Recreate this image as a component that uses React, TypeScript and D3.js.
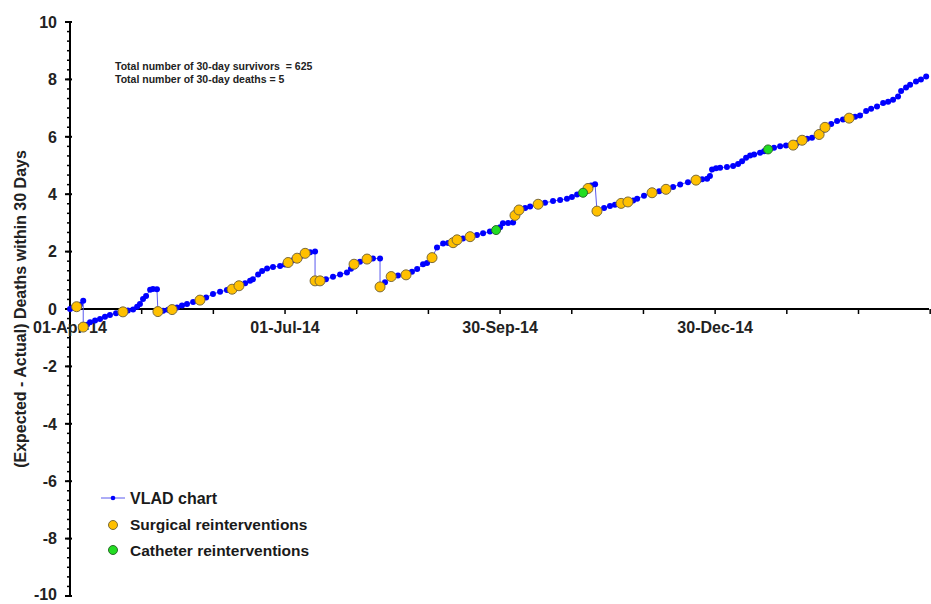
import React from "react";
import * as d3 from "d3";

const vlad: [number, number][] = [
  [0, 0], [1.3, 0.05], [2.8, 0.08], [4.2, 0.15], [5.6, 0.29], [5.6, -0.63], [7.2, -0.55], [8.5, -0.46],
  [10.6, -0.4], [12.7, -0.35], [14.8, -0.27], [16.9, -0.21], [19.5, -0.15], [22.4, -0.1], [24.5, -0.05],
  [26.7, -0.02], [28.4, 0.08], [29.6, 0.17], [30.9, 0.35], [32.2, 0.45], [33.9, 0.67], [35.1, 0.7],
  [36.8, 0.69], [37.2, -0.09], [39.4, -0.06], [41.5, -0.03], [43.2, -0.02], [45.3, 0.05], [47.4, 0.12],
  [49.5, 0.17], [52.1, 0.24], [55.0, 0.31], [57.6, 0.4], [60.5, 0.52], [63.5, 0.6], [66.4, 0.66],
  [68.6, 0.69], [71.5, 0.81], [74.1, 0.9], [76.2, 0.98], [77.4, 1.04], [79.6, 1.2], [81.3, 1.32],
  [83.4, 1.41], [85.9, 1.46], [88.9, 1.5], [91.0, 1.55], [92.3, 1.62], [94.4, 1.7], [96.1, 1.77],
  [97.8, 1.85], [99.5, 1.94], [101.6, 1.98], [103.7, 2.0], [103.7, 0.98], [105.8, 0.98], [108.3, 1.04],
  [111.3, 1.12], [114.3, 1.2], [117.2, 1.27], [118.9, 1.4], [120.2, 1.56], [122.7, 1.65], [125.7, 1.74],
  [128.2, 1.76], [131.2, 1.76], [131.2, 0.77], [133.3, 0.93], [135.9, 1.13], [138.8, 1.17], [142.2, 1.19],
  [144.7, 1.3], [146.9, 1.39], [149.4, 1.56], [151.1, 1.6], [153.2, 1.79], [155.3, 2.14], [157.9, 2.28],
  [160.0, 2.3], [162.1, 2.31], [163.8, 2.41], [166.3, 2.46], [169.3, 2.52], [172.2, 2.58], [174.8, 2.64],
  [177.7, 2.7], [180.3, 2.75], [182.0, 2.85], [183.2, 2.99], [185.4, 3.0], [187.5, 3.01], [188.3, 3.26],
  [190.0, 3.45], [192.6, 3.52], [194.7, 3.57], [198.1, 3.65], [201.0, 3.7], [204.4, 3.76], [207.4, 3.8],
  [210.3, 3.84], [212.4, 3.9], [214.6, 3.99], [217.1, 4.05], [219.2, 4.2], [220.5, 4.3], [222.2, 4.35],
  [223.0, 3.41], [226.0, 3.52], [228.5, 3.59], [230.6, 3.63], [233.2, 3.68], [236.1, 3.73], [238.3, 3.78],
  [240.0, 3.84], [242.9, 3.95], [246.3, 4.05], [249.3, 4.1], [252.2, 4.17], [255.2, 4.25], [258.2, 4.34],
  [261.5, 4.42], [264.9, 4.49], [267.5, 4.52], [269.6, 4.54], [270.8, 4.63], [271.7, 4.86], [273.4, 4.9],
  [275.1, 4.92], [278.0, 4.95], [280.6, 4.98], [282.7, 5.05], [284.4, 5.15], [286.1, 5.27], [287.8, 5.35],
  [289.5, 5.38], [292.0, 5.44], [293.7, 5.5], [295.4, 5.56], [297.9, 5.62], [300.5, 5.67], [303.0, 5.7],
  [306.0, 5.71], [307.7, 5.78], [309.8, 5.88], [311.9, 5.93], [314.0, 5.97], [317.0, 6.08], [318.2, 6.2],
  [319.5, 6.33], [322.1, 6.45], [324.6, 6.55], [327.1, 6.6], [329.7, 6.65], [332.2, 6.7], [334.3, 6.74],
  [336.9, 6.9], [339.0, 6.98], [341.5, 7.06], [344.1, 7.18], [346.2, 7.22], [348.3, 7.29], [350.4, 7.4],
  [351.7, 7.6], [353.8, 7.72], [355.5, 7.81], [358.0, 7.93], [360.1, 8.0], [362.3, 8.1],
];

const surgical: [number, number][] = [
  [2.8, 0.08], [5.6, -0.63], [22.4, -0.1], [37.2, -0.09], [43.2, -0.02], [55.0, 0.31], [68.6, 0.69],
  [71.5, 0.81], [92.3, 1.62], [96.1, 1.77], [99.5, 1.94], [103.7, 0.98], [105.8, 0.98], [120.2, 1.56],
  [125.7, 1.74], [131.2, 0.77], [135.9, 1.13], [142.2, 1.19], [153.2, 1.79], [162.1, 2.31], [163.8, 2.41],
  [169.3, 2.52], [188.3, 3.26], [190.0, 3.45], [198.1, 3.65], [219.2, 4.2], [223.0, 3.41], [233.2, 3.68],
  [236.1, 3.73], [246.3, 4.05], [252.2, 4.17], [264.9, 4.49], [306.0, 5.71], [309.8, 5.88], [317.0, 6.08],
  [319.5, 6.33], [329.7, 6.65],
];

const catheter: [number, number][] = [
  [180.3, 2.75], [217.1, 4.05], [295.4, 5.56],
];

const xTickLabels = ["01-Apr-14", "01-Jul-14", "30-Sep-14", "30-Dec-14"];
const xLabelDays = [0, 91, 182, 273];
const yTickValues = [-10, -8, -6, -4, -2, 0, 2, 4, 6, 8, 10];
const annotations = ["Total number of 30-day survivors  = 625", "Total number of 30-day deaths = 5"];
const legendLabels = ["VLAD chart", "Surgical reinterventions", "Catheter reinterventions"];

const W = 931;
const H = 604;
const FONT = "Liberation Sans, Arial, sans-serif";

export default function App() {
  const x = d3.scaleLinear().domain([0, 363.5]).range([70, 929]);
  const y = d3.scaleLinear().domain([-10, 10]).range([596, 22]);
  const line = d3
    .line<[number, number]>()
    .x((d) => x(d[0]))
    .y((d) => y(d[1]));

  const minorX = d3.range(0, 364.5, 91 / 3);
  const minorY = d3.range(-10, 10.001, 1 / 3);
  const y0 = y(0);

  return (
    <svg width={W} height={H} style={{ position: "absolute", left: 0, top: 0, background: "#fff" }} fontFamily={FONT}>
      <rect x={0} y={0} width={W} height={H} fill="#fff" />
      {/* y axis */}
      <line x1={70} x2={70} y1={y(10)} y2={y(-10)} stroke="#000" strokeWidth={2} />
      {minorY.map((v, i) => (
        <line key={"my" + i} x1={67} x2={70} y1={y(v)} y2={y(v)} stroke="#000" strokeWidth={1.5} />
      ))}
      {yTickValues.map((v) => (
        <g key={"yt" + v}>
          <line x1={65} x2={72} y1={y(v)} y2={y(v)} stroke="#000" strokeWidth={2} />
          <text x={57} y={v === -10 ? y(v) - 2 : y(v)} dy="0.36em" textAnchor="end" fontSize={16} fontWeight="bold" fill="#222">
            {v}
          </text>
        </g>
      ))}
      {/* x axis */}
      <line x1={70} x2={929} y1={y0} y2={y0} stroke="#000" strokeWidth={2} />
      {minorX.map((d, i) => (
        <line key={"mx" + i} x1={x(d)} x2={x(d)} y1={y0} y2={y0 + 5} stroke="#000" strokeWidth={1.5} />
      ))}
      {xTickLabels.map((lab, i) => (
        <text key={lab} x={x(xLabelDays[i])} y={y0 + 24} textAnchor="middle" fontSize={16} fontWeight="bold" fill="#222">
          {lab}
        </text>
      ))}
      {/* y title */}
      <text
        transform={`translate(26,${y0}) rotate(-90)`}
        textAnchor="middle"
        fontSize={16}
        fontWeight="bold"
        fill="#222"
      >
        (Expected - Actual) Deaths within 30 Days
      </text>
      {/* annotations */}
      {annotations.map((a, i) => (
        <text key={a} x={115} y={70 + i * 13} fontSize={10.5} fontWeight="bold" fill="#222" style={{ whiteSpace: "pre" }}>
          {a}
        </text>
      ))}
      {/* VLAD line */}
      <path d={line(vlad) || ""} fill="none" stroke="#5a5aee" strokeWidth={1} />
      {vlad.map((d, i) => (
        <circle key={"v" + i} cx={x(d[0])} cy={y(d[1])} r={3} fill="#0000ff" />
      ))}
      {surgical.map((d, i) => (
        <circle key={"s" + i} cx={x(d[0])} cy={y(d[1])} r={5} fill="#ffc000" stroke="#7a6a3a" strokeWidth={1} />
      ))}
      {catheter.map((d, i) => (
        <circle key={"c" + i} cx={x(d[0])} cy={y(d[1])} r={4.5} fill="#22dd22" stroke="#2a6a2a" strokeWidth={1} />
      ))}
      {/* legend */}
      <line x1={101} x2={125} y1={498} y2={498} stroke="#5a5aee" strokeWidth={1} />
      <circle cx={113} cy={498} r={2.3} fill="#0000ff" />
      <circle cx={113} cy={525} r={4.5} fill="#ffc000" stroke="#7a6a3a" strokeWidth={1} />
      <circle cx={113} cy={550} r={4.5} fill="#22dd22" stroke="#2a6a2a" strokeWidth={1} />
      {legendLabels.map((l, i) => (
        <text key={l} x={130} y={498 + i * 26} dy="0.36em" fontSize={i === 0 ? 16 : 15.5} fontWeight="bold" fill="#1a1a1a">
          {l}
        </text>
      ))}
    </svg>
  );
}
